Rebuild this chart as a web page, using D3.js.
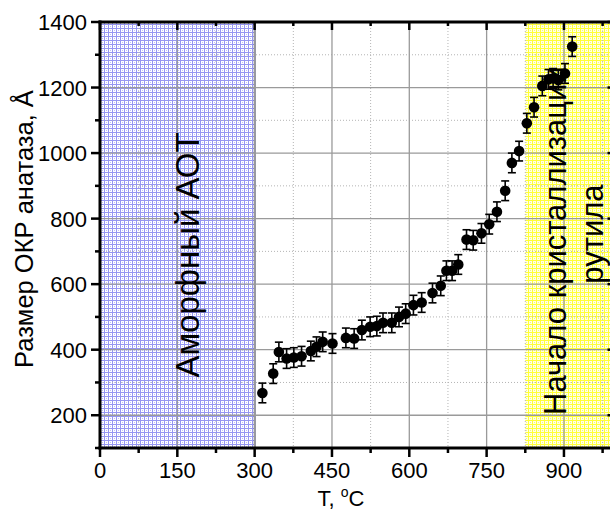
<!DOCTYPE html>
<html><head><meta charset="utf-8">
<script src="https://cdn.jsdelivr.net/npm/d3@7"></script>
<style>body{margin:0;background:#fff}svg{display:block}text{font-family:"Liberation Sans",Arial,sans-serif;fill:#000}</style>
</head><body>
<svg id="c" width="610" height="515"></svg>
<script>
const temps = [315,336,347,362,376,391,409,420,432,451,477,493,508,524,537,549,566,580,593,608,624,645,661,672,683,695,711,724,740,755,770,786,799,813,828,842,858,870,879,889,902,916];
const sizes = [268,327,393,373,376,380,396,409,424,419,436,434,460,470,472,482,482,500,510,536,544,573,595,641,641,660,736,734,755,783,821,885,970,1006,1091,1140,1205,1225,1228,1223,1243,1325];
const errors = [30,30,30,30,30,30,30,30,30,30,30,30,30,30,30,30,30,30,30,30,30,30,30,30,30,30,30,30,30,30,30,30,30,30,30,30,30,30,30,30,30,30];
const xMajor = [0,150,300,450,600,750,900];
const xMinor = [75,225,375,525,675,825,975];
const yMajor = [200,400,600,800,1000,1200,1400];
const yMinor = [100,300,500,700,900,1100,1300];
const amorphRange = [0,300];
const rutileRange = [825,1000];
const xDomain = [0,1000];
const yDomain = [100,1400];
const xTitle = "T, ";
const yTitle = "Размер ОКР анатаза, Å";
const amorphLabel = "Аморфный АОТ";
const rutileLabel1 = "Начало кристаллизации";
const rutileLabel2 = "рутила";

const svg = d3.select("#c");
const L = 100, T = 22, R = 615.5, B = 448;
const x = d3.scaleLinear().domain(xDomain).range([L, R]);
const y = d3.scaleLinear().domain(yDomain).range([B, T]);

const defs = svg.append("defs");
const pb = defs.append("pattern").attr("id","pb").attr("patternUnits","userSpaceOnUse").attr("width",4).attr("height",4);
pb.append("rect").attr("width",4).attr("height",4).attr("fill","#ffffff");
pb.append("rect").attr("width",4).attr("height",1).attr("fill","#9696f2");
pb.append("rect").attr("width",1).attr("height",4).attr("fill","#9696f2");
pb.append("rect").attr("x",2).attr("y",2).attr("width",1).attr("height",1).attr("fill","#c0c0f8");
const py = defs.append("pattern").attr("id","py").attr("patternUnits","userSpaceOnUse").attr("width",4).attr("height",4);
py.append("rect").attr("width",4).attr("height",4).attr("fill","#ffffe6");
py.append("rect").attr("width",4).attr("height",1).attr("fill","#ffff38");
py.append("rect").attr("width",1).attr("height",4).attr("fill","#ffff38");
py.append("rect").attr("x",2).attr("y",2).attr("width",1).attr("height",1).attr("fill","#f6f680");

// shaded regions
svg.append("rect").attr("x",x(amorphRange[0])).attr("y",T).attr("width",x(amorphRange[1])-x(amorphRange[0])).attr("height",B-T).attr("fill","url(#pb)");
svg.append("line").attr("x1",x(amorphRange[1])).attr("x2",x(amorphRange[1])).attr("y1",T).attr("y2",B).attr("stroke","#1a1a40").attr("stroke-width",1.6);
svg.append("rect").attr("x",x(rutileRange[0])).attr("y",T).attr("width",x(rutileRange[1])-x(rutileRange[0])).attr("height",B-T).attr("fill","url(#py)");

// grid
const g = svg.append("g");
g.selectAll(".vmin").data(xMinor).join("line").attr("x1",d=>x(d)).attr("x2",d=>x(d)).attr("y1",T).attr("y2",B)
  .attr("stroke","#b4b4b4").attr("stroke-width",1).attr("stroke-dasharray","1,2");
g.selectAll(".hmin").data(yMinor).join("line").attr("x1",L).attr("x2",R).attr("y1",d=>y(d)).attr("y2",d=>y(d))
  .attr("stroke","#b4b4b4").attr("stroke-width",1).attr("stroke-dasharray","1,2");
g.selectAll(".vmaj").data(xMajor).join("line").attr("x1",d=>x(d)).attr("x2",d=>x(d)).attr("y1",T).attr("y2",B)
  .attr("stroke","#9a9a9a").attr("stroke-width",1.3);
g.selectAll(".hmaj").data(yMajor).join("line").attr("x1",L).attr("x2",R).attr("y1",d=>y(d)).attr("y2",d=>y(d))
  .attr("stroke","#9a9a9a").attr("stroke-width",1.3);

// data
const pts = temps.map((t,i)=>({t, v:sizes[i], e:errors[i]}));
const eb = svg.append("g").attr("stroke","#000").attr("stroke-width",1.6);
pts.forEach(p=>{
  eb.append("line").attr("x1",x(p.t)).attr("x2",x(p.t)).attr("y1",y(p.v-p.e)).attr("y2",y(p.v+p.e));
  eb.append("line").attr("x1",x(p.t)-4).attr("x2",x(p.t)+4).attr("y1",y(p.v-p.e)).attr("y2",y(p.v-p.e));
  eb.append("line").attr("x1",x(p.t)-4).attr("x2",x(p.t)+4).attr("y1",y(p.v+p.e)).attr("y2",y(p.v+p.e));
});
svg.append("g").selectAll("circle").data(pts).join("circle").attr("cx",d=>x(d.t)).attr("cy",d=>y(d.v)).attr("r",5.3).attr("fill","#000");

// region labels
svg.append("text").attr("transform",`translate(199,255) rotate(-90)`).attr("text-anchor","middle").attr("font-size",33).text(amorphLabel);
svg.append("text").attr("transform",`translate(566,415) rotate(-90)`).attr("text-anchor","start").attr("font-size",31).text(rutileLabel1);
svg.append("text").attr("transform",`translate(603,234) rotate(-90)`).attr("text-anchor","middle").attr("font-size",31).text(rutileLabel2);

// axes
const ax = svg.append("g").attr("stroke","#000");
ax.append("line").attr("x1",L-1.5).attr("x2",R).attr("y1",B).attr("y2",B).attr("stroke-width",3);
ax.selectAll(".bt").data(xMajor).join("line").attr("x1",d=>x(d)).attr("x2",d=>x(d)).attr("y1",B).attr("y2",B+9).attr("stroke-width",2.5);
ax.selectAll(".btm").data(xMinor).join("line").attr("x1",d=>x(d)).attr("x2",d=>x(d)).attr("y1",B).attr("y2",B+5).attr("stroke-width",2.5);
ax.append("line").attr("x1",L-1.5).attr("x2",R).attr("y1",T).attr("y2",T).attr("stroke-width",3);
ax.selectAll(".tt").data(xMajor).join("line").attr("x1",d=>x(d)).attr("x2",d=>x(d)).attr("y1",T).attr("y2",T+8).attr("stroke-width",2.5);
ax.selectAll(".ttm").data(xMinor).join("line").attr("x1",d=>x(d)).attr("x2",d=>x(d)).attr("y1",T).attr("y2",T+4).attr("stroke-width",2.5);
ax.append("line").attr("x1",L).attr("x2",L).attr("y1",T-1.5).attr("y2",B+1.5).attr("stroke-width",3);
ax.selectAll(".lt").data(yMajor).join("line").attr("x1",L-9).attr("x2",L).attr("y1",d=>y(d)).attr("y2",d=>y(d)).attr("stroke-width",2.5);
ax.selectAll(".ltm").data(yMinor).join("line").attr("x1",L-5).attr("x2",L).attr("y1",d=>y(d)).attr("y2",d=>y(d)).attr("stroke-width",2.5);
ax.append("line").attr("x1",R).attr("x2",R).attr("y1",T-1.5).attr("y2",B+1.5).attr("stroke-width",3);
ax.selectAll(".rt").data(yMajor).join("line").attr("x1",R-8).attr("x2",R).attr("y1",d=>y(d)).attr("y2",d=>y(d)).attr("stroke-width",2.5);
ax.selectAll(".rtm").data(yMinor).join("line").attr("x1",R-4).attr("x2",R).attr("y1",d=>y(d)).attr("y2",d=>y(d)).attr("stroke-width",2.5);

// tick labels
svg.append("g").selectAll("text").data(xMajor).join("text").attr("x",d=>x(d)).attr("y",478).attr("text-anchor","middle").attr("font-size",22).text(d=>d);
svg.append("g").selectAll("text").data(yMajor).join("text").attr("x",87).attr("y",d=>y(d)+8).attr("text-anchor","end").attr("font-size",22).text(d=>d);

// titles
const xt = svg.append("text").attr("x",341).attr("y",506).attr("text-anchor","middle").attr("font-size",22);
xt.append("tspan").text(xTitle);
xt.append("tspan").attr("font-size",14).attr("dy",-9).text("o");
xt.append("tspan").attr("dy",9).text("C");
svg.append("text").attr("transform","translate(33,229) rotate(-90)").attr("text-anchor","middle").attr("font-size",25.5).text(yTitle);
</script>
</body></html>
